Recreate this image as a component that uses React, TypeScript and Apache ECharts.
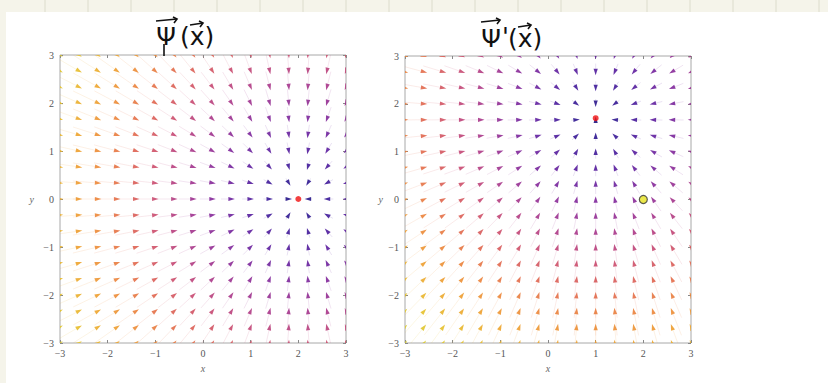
import React, { useEffect, useRef } from "react";
import * as echarts from "echarts";

// Grid of arrow positions
const X_GRID = [-3, -2.6, -2.2, -1.8, -1.4, -1, -0.6, -0.2, 0.2, 0.6, 1, 1.4, 1.8, 2.2, 2.6, 3];
const Y_GRID = [-3, -2.667, -2.333, -2, -1.667, -1.333, -1, -0.667, -0.333, 0, 0.333, 0.667, 1, 1.333, 1.667, 2, 2.333, 2.667, 3];

// Sink points of each field
const LEFT_SINK = [2, 0];
const RIGHT_SINK = [1, 1.7];
const RIGHT_MARKER = [2, 0];

// colour map, near (dark blue) to far (yellow)
const CMAP = ["#1c1480", "#3a1898", "#5e1e9e", "#84289a", "#a8368a", "#c94a70", "#e0654e", "#ec8638", "#eda42c", "#e6c02a", "#d8cc30"];

function hexToRgb(h: string) {
  const n = parseInt(h.slice(1), 16);
  return [(n >> 16) & 255, (n >> 8) & 255, n & 255];
}
function colorAt(d: number) {
  const t = Math.max(0, Math.min(1, d / 6));
  const f = t * (CMAP.length - 1);
  const i = Math.min(CMAP.length - 2, Math.floor(f));
  const a = hexToRgb(CMAP[i]);
  const b = hexToRgb(CMAP[i + 1]);
  const u = f - i;
  const c = a.map((v, k) => Math.round(v + (b[k] - v) * u));
  return `rgb(${c[0]},${c[1]},${c[2]})`;
}

function fieldData(sink: number[]) {
  const out: number[][] = [];
  for (const x of X_GRID) {
    for (const y of Y_GRID) {
      out.push([x, y, sink[0], sink[1], Math.hypot(sink[0] - x, sink[1] - y)]);
    }
  }
  return out;
}

const SERIF = "Liberation Serif";
const fmt = (v: number) => (v < 0 ? "−" + -v : String(v));

function renderArrow(params: any, api: any) {
  const x = api.value(0), y = api.value(1), sx = api.value(2), sy = api.value(3), d = api.value(4);
  const p = api.coord([x, y]);
  const s = api.coord([sx, sy]);
  let vx = s[0] - p[0], vy = s[1] - p[1];
  const m = Math.hypot(vx, vy) || 1;
  vx /= m; vy /= m;
  const unit = api.size([1, 1])[0];
  const color = colorAt(d);
  const hl = 6.5, hw = 2.1;
  const tip = [p[0] + vx * hl / 2, p[1] + vy * hl / 2];
  const base = [p[0] - vx * hl / 2, p[1] - vy * hl / 2];
  const px = -vy, py = vx;
  const L = d * 0.11 * unit;
  return {
    type: "group",
    children: [
      {
        type: "line",
        shape: { x1: base[0], y1: base[1], x2: base[0] - vx * L, y2: base[1] - vy * L },
        style: { stroke: color, lineWidth: 0.6, opacity: 0.22 },
      },
      {
        type: "polygon",
        shape: { points: [tip, [base[0] + px * hw, base[1] + py * hw], [base[0] - px * hw, base[1] - py * hw]] },
        style: { fill: color, opacity: 0.9 },
      },
    ],
  };
}

function axisX(gridIndex: number, top: boolean) {
  return {
    type: "value", gridIndex, min: -3, max: 3, interval: 1,
    position: top ? "top" : "bottom",
    axisLine: { show: false, onZero: false },
    axisTick: { show: true, inside: true, length: 3, lineStyle: { color: "#888", width: 1 } },
    axisLabel: { show: !top, fontFamily: SERIF, fontSize: 10, color: "#555", margin: 5, formatter: fmt },
    splitLine: { show: false },
    name: top ? "" : "x",
    nameLocation: "middle",
    nameGap: 20,
    nameTextStyle: { fontFamily: SERIF, fontStyle: "italic", fontSize: 10, color: "#666" },
  };
}
function axisY(gridIndex: number, right: boolean, gap: number) {
  return {
    type: "value", gridIndex, min: -3, max: 3, interval: 1,
    position: right ? "right" : "left",
    axisLine: { show: false, onZero: false },
    axisTick: { show: true, inside: true, length: 3, lineStyle: { color: "#888", width: 1 } },
    axisLabel: { show: !right, fontFamily: SERIF, fontSize: 10, color: "#555", margin: 6, formatter: fmt },
    splitLine: { show: false },
    name: right ? "" : "y",
    nameLocation: "middle",
    nameRotate: 0,
    nameGap: gap,
    nameTextStyle: { fontFamily: SERIF, fontStyle: "italic", fontSize: 10, color: "#666" },
  };
}

function vecArrow(x1: number, x2: number, y: number) {
  return [
    { type: "line", shape: { x1, y1: y + 1, x2, y2: y - 1 }, style: { stroke: "#111", lineWidth: 1.6 } },
    { type: "polyline", shape: { points: [[x2 - 4, y - 3], [x2, y - 1], [x2 - 3, y + 3]] }, style: { stroke: "#111", lineWidth: 1.6, fill: null } },
  ];
}

export default function App() {
  const ref = useRef<HTMLDivElement>(null);
  useEffect(() => {
    if (!ref.current) return;
    const chart = echarts.init(ref.current, null, { renderer: "svg" });
    const topLines: any[] = [];
    for (let gx = 45; gx < 828; gx += 43) {
      topLines.push({ type: "line", shape: { x1: gx, y1: 0, x2: gx, y2: 12 }, style: { stroke: "#dcdccc", lineWidth: 1 } });
    }
    const titleStyle = { fontFamily: "DejaVu Sans", fontSize: 25, fill: "#111", verticalAlign: "middle" };
    const option: any = {
      animation: false,
      backgroundColor: "#ffffff",
      grid: [
        { left: 60, top: 55, width: 286, height: 288, show: true, borderColor: "#a8a8a8", borderWidth: 1, backgroundColor: "transparent" },
        { left: 405, top: 56, width: 286, height: 287, show: true, borderColor: "#a8a8a8", borderWidth: 1, backgroundColor: "transparent" },
      ],
      xAxis: [axisX(0, false), axisX(0, true), axisX(1, false), axisX(1, true)],
      yAxis: [axisY(0, false, 26), axisY(0, true, 0), axisY(1, false, 22), axisY(1, true, 0)],
      series: [
        {
          type: "custom", xAxisIndex: 0, yAxisIndex: 0, clip: true,
          data: fieldData(LEFT_SINK), encode: { x: 0, y: 1 }, renderItem: renderArrow, silent: true,
        },
        {
          type: "custom", xAxisIndex: 2, yAxisIndex: 2, clip: true,
          data: fieldData(RIGHT_SINK), encode: { x: 0, y: 1 }, renderItem: renderArrow, silent: true,
        },
        {
          type: "scatter", xAxisIndex: 0, yAxisIndex: 0, symbolSize: 6,
          itemStyle: { color: "#f01010" }, data: [LEFT_SINK], z: 5,
        },
        {
          type: "scatter", xAxisIndex: 2, yAxisIndex: 2, symbolSize: 6,
          itemStyle: { color: "#f01010" }, data: [RIGHT_SINK], z: 5,
        },
        {
          type: "scatter", xAxisIndex: 2, yAxisIndex: 2, symbolSize: 8,
          itemStyle: { color: "#e6e21e", borderColor: "#333", borderWidth: 1.2 }, data: [RIGHT_MARKER], z: 5,
        },
      ],
      graphic: [
        { type: "rect", shape: { x: 0, y: 0, width: 828, height: 12 }, style: { fill: "#f5f4ea" }, silent: true },
        { type: "rect", shape: { x: 0, y: 0, width: 6, height: 383 }, style: { fill: "#f5f4ea" }, silent: true },
        ...topLines,
        // left title  Ψ(x) with vector arrows
        { type: "text", x: 166, y: 36, style: { ...titleStyle, text: "Ψ", align: "center" } },
        { type: "text", x: 180, y: 36, style: { ...titleStyle, text: "(x)", align: "left" } },
        ...vecArrow(156, 177, 20),
        ...vecArrow(190, 203, 24),
        { type: "line", shape: { x1: 164, y1: 44, x2: 164, y2: 56 }, style: { stroke: "#111", lineWidth: 1.6 } },
        // right title  Ψ'(x)
        { type: "text", x: 491, y: 38, style: { ...titleStyle, text: "Ψ", align: "center" } },
        { type: "text", x: 502, y: 36, style: { ...titleStyle, text: "'", align: "left" } },
        { type: "text", x: 508, y: 38, style: { ...titleStyle, text: "(x)", align: "left" } },
        ...vecArrow(481, 500, 21),
        ...vecArrow(518, 531, 26),
      ],
    };
    chart.setOption(option);
    return () => chart.dispose();
  }, []);
  return <div ref={ref} style={{ position: "fixed", left: 0, top: 0, width: 828, height: 383 }} />;
}
